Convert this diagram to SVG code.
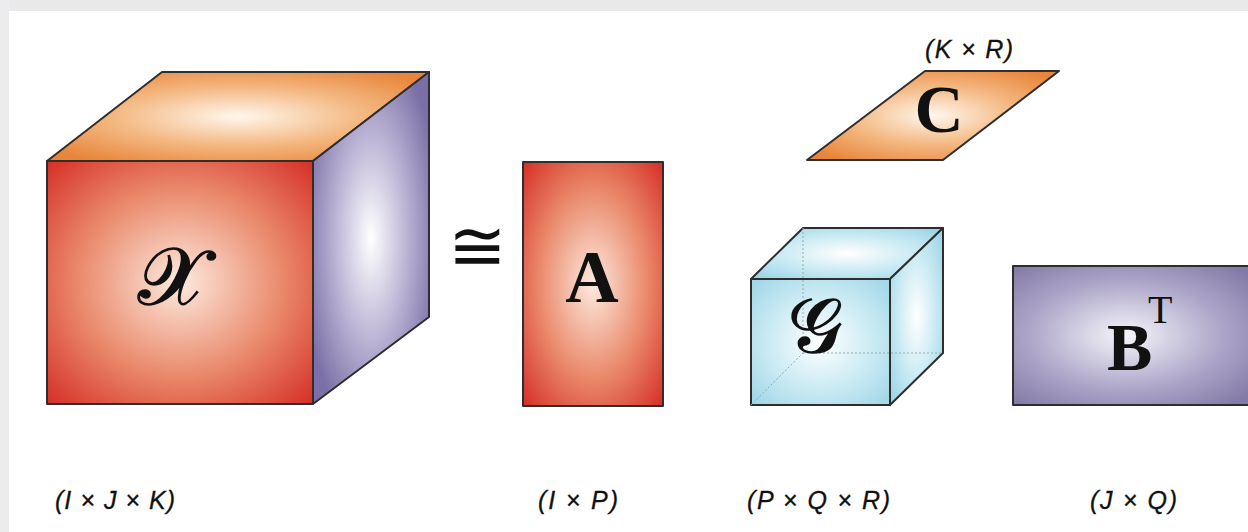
<svg xmlns="http://www.w3.org/2000/svg" width="1248" height="532" viewBox="0 0 1248 532">
  <defs>
    <radialGradient id="gRed" cx="0.5" cy="0.5" r="0.72">
      <stop offset="0" stop-color="#fdeadf"/>
      <stop offset="0.55" stop-color="#e98667"/>
      <stop offset="1" stop-color="#d42a22"/>
    </radialGradient>
    <radialGradient id="gOrange" cx="0.5" cy="0.5" r="0.62">
      <stop offset="0" stop-color="#fff7ee"/>
      <stop offset="0.5" stop-color="#f4bb86"/>
      <stop offset="1" stop-color="#e8853a"/>
    </radialGradient>
    <radialGradient id="gPurple" cx="0.5" cy="0.5" r="0.6">
      <stop offset="0" stop-color="#ffffff"/>
      <stop offset="0.5" stop-color="#bdb6d6"/>
      <stop offset="1" stop-color="#7a6fa6"/>
    </radialGradient>
    <radialGradient id="gPurpleRect" cx="0.45" cy="0.5" r="0.65">
      <stop offset="0" stop-color="#f6f5fa"/>
      <stop offset="0.6" stop-color="#aca5c8"/>
      <stop offset="1" stop-color="#857ba8"/>
    </radialGradient>
    <radialGradient id="gBlue" cx="0.5" cy="0.5" r="0.65">
      <stop offset="0" stop-color="#ffffff"/>
      <stop offset="0.6" stop-color="#c4e8f2"/>
      <stop offset="1" stop-color="#9dd5e7"/>
    </radialGradient>
    <style>
      .face { stroke: #2e2e2e; stroke-width: 2; stroke-linejoin: round; }
      .hidden { stroke: #9aa8ae; stroke-width: 1; stroke-dasharray: 2 2; fill: none; }
      .sym { font-family: "Liberation Serif", "DejaVu Serif", serif; fill: #111; }
      .script { stroke: #111; stroke-width: 1.6; }
      .bold { font-weight: bold; }
      .dim { font-family: "Liberation Sans", Arial, sans-serif; font-style: italic; font-size: 25px; fill: #111; stroke: #111; stroke-width: 0.3; }
    </style>
  </defs>

  <!-- background -->
  <rect x="0" y="0" width="1248" height="532" fill="#ffffff"/>
  <rect x="0" y="0" width="1248" height="11" fill="#e9e9e9"/>
  <rect x="0" y="0" width="9" height="532" fill="#ececef"/>

  <!-- Tensor X -->
  <g id="tensor-X">
    <polygon class="face" points="47,161 162,72 429,72 313,161" fill="url(#gOrange)"/>
    <polygon class="face" points="313,161 429,72 429,317 313,404" fill="url(#gPurple)"/>
    <rect class="face" x="47" y="161" width="266" height="243" fill="url(#gRed)"/>
    <text class="sym script" x="172" y="304" font-size="80" text-anchor="middle">𝒳</text>
  </g>

  <!-- approx symbol -->
  <g id="approx">
    <text x="477" y="270" font-family="DejaVu Serif, serif" font-size="70" text-anchor="middle" fill="#111">≅</text>
  </g>

  <!-- Matrix A -->
  <g id="matrix-A">
    <rect class="face" x="523" y="162" width="140" height="244" fill="url(#gRed)"/>
    <text class="sym bold" x="592" y="302" font-size="74" text-anchor="middle">A</text>
  </g>

  <!-- Matrix C -->
  <g id="matrix-C">
    <polygon class="face" points="925,71 1059,71 943,160 807,160" fill="url(#gOrange)"/>
    <text class="sym bold" x="939" y="132" font-size="68" text-anchor="middle">C</text>
  </g>

  <!-- Core tensor G -->
  <g id="core-G">
    <polygon class="face" points="751,279 803,228 943,228 890,279" fill="url(#gBlue)"/>
    <polygon class="face" points="890,279 943,228 943,353 890,405" fill="url(#gBlue)"/>
    <rect class="face" x="751" y="279" width="139" height="126" fill="url(#gBlue)" fill-opacity="0.92"/>
    <line class="hidden" x1="803" y1="228" x2="803" y2="353"/>
    <line class="hidden" x1="803" y1="353" x2="943" y2="353"/>
    <line class="hidden" x1="751" y1="405" x2="803" y2="353"/>
    <text class="sym script" x="815" y="352" font-size="76" text-anchor="middle">𝒢</text>
  </g>

  <!-- Matrix B^T -->
  <g id="matrix-BT">
    <rect class="face" x="1013" y="266" width="250" height="139" fill="url(#gPurpleRect)"/>
    <text class="sym bold" x="1107" y="370" font-size="68">B</text>
    <text class="sym" x="1148" y="323" font-size="40">T</text>
  </g>

  <!-- dimension labels -->
  <g id="labels">
    <text class="dim" x="55" y="509" textLength="120">(I × J × K)</text>
    <text class="dim" x="538" y="509" textLength="80">(I × P)</text>
    <text class="dim" x="747" y="509" textLength="143">(P × Q × R)</text>
    <text class="dim" x="1090" y="509" textLength="87">(J × Q)</text>
    <text class="dim" x="925" y="58" textLength="88">(K × R)</text>
  </g>

  <g id="connectors"></g>
</svg>
